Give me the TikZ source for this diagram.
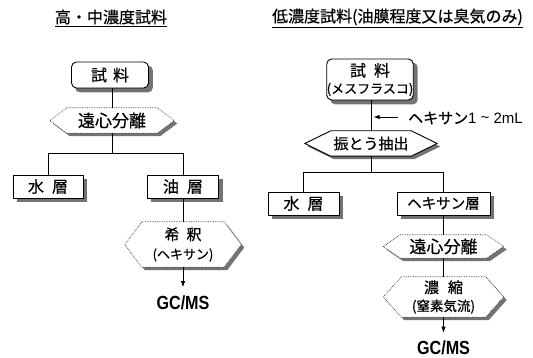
\documentclass[tikz,border=0pt]{standalone}
\usepackage{fontspec}
\usepackage{graphicx}
\setmainfont{Noto Sans CJK JP}[FakeBold=0.6,BoldFont={Noto Sans CJK JP}]
\newfontfamily\lib{Liberation Sans}
\usetikzlibrary{arrows.meta,backgrounds}

\newcommand\fs[1]{\fontsize{#1}{#1}\selectfont}
% hexagon drawn around an (invisible) rectangular node
\newcommand\hexdraw[3]{%
  \begin{scope}[on background layer]
    \fill[shadowc]
      ([xshift=#2pt+3pt,yshift=-3pt]#1.north west) --
      ([xshift=-#2pt+3pt,yshift=-3pt]#1.north east) --
      ([xshift=3pt,yshift=-3pt]#1.east) --
      ([xshift=-#2pt+3pt,yshift=-3pt]#1.south east) --
      ([xshift=#2pt+3pt,yshift=-3pt]#1.south west) --
      ([xshift=3pt,yshift=-3pt]#1.west) -- cycle;
    \filldraw[fill=white,#3]
      ([xshift=#2pt]#1.north west) --
      ([xshift=-#2pt]#1.north east) --
      (#1.east) --
      ([xshift=-#2pt]#1.south east) --
      ([xshift=#2pt]#1.south west) --
      (#1.west) -- cycle;
  \end{scope}}
% drop shadow for a box node
\newcommand\boxshadow[2]{%
  \begin{scope}[on background layer]
    \fill[shadowc, rounded corners=#2]
      ([xshift=4pt,yshift=-4pt]#1.south west) rectangle
      ([xshift=4pt,yshift=-4pt]#1.north east);
  \end{scope}}

\colorlet{shadowc}{black!55}

\begin{document}
\begin{tikzpicture}[x=1pt,y=-1pt,
  every node/.style={inner sep=0pt, font=\fs{16}},
  box/.style={draw, fill=white, line width=0.9pt},
  rbox/.style={box, rounded corners=5pt},
  hexnode/.style={draw=none, align=center},
  dotb/.style={draw=black!80, line width=0.7pt, densely dotted},
  solidb/.style={draw=black, line width=0.9pt},
  conn/.style={line width=0.9pt},
  arr/.style={conn, -{Latex[length=6pt,width=4.5pt]}},
  gcms/.style={font=\lib\bfseries\fs{19}},
  ttl/.style={font=\fs{16}},
]
\useasboundingbox (0,0) rectangle (533,358);

% ---------------- left column ----------------
\node[ttl] (t1) at (111,18) {\underline{高・中濃度試料}};
\node[rbox, minimum width=77pt, minimum height=26pt] (s1) at (110,75) {試\hspace{6pt}料};
\boxshadow{s1}{5pt}
\node[hexnode, minimum width=124pt, minimum height=25pt, font=\fs{17}] (h1) at (112,120.5) {遠心分離};
\hexdraw{h1}{17}{dotb}
\coordinate (j1) at (112,153);
\node[box, minimum width=70pt, minimum height=23pt] (w1) at (48,186.5) {水\hspace{8pt}層};
\boxshadow{w1}{0pt}
\node[box, minimum width=71pt, minimum height=23pt] (o1) at (183,186.5) {油\hspace{8pt}層};
\boxshadow{o1}{0pt}
\node[hexnode, minimum width=116pt, minimum height=45pt] (h2) at (183,244.5)
  {{\fs{15}希\hspace{7pt}釈}\\[3pt]{\fs{13}(ヘキサン)}};
\hexdraw{h2}{17}{dotb}
\node[gcms] (g1) at (183,302.5) {\scalebox{0.85}[1]{GC/MS}};

\draw[conn] (s1.south -| h1.north) -- (h1.north);
\draw[conn] (h1.south) -- (j1);
\draw[conn] (w1.north) -- (w1.north |- j1) -- (o1.north |- j1) -- (o1.north);
\draw[conn] (o1.south) -- (h2.north);
\draw[arr, shorten >=8pt] (h2.south) -- (g1.north);

% ---------------- right column ----------------
\node[ttl] (t2) at (397.5,18) {\underline{低濃度試料(油膜程度又は臭気のみ)}};
\node[rbox, minimum width=86pt, minimum height=41pt, align=center] (s2) at (370,79.5)
  {試\hspace{8pt}料\\[1pt]{\fs{13}(メスフラスコ)}};
\boxshadow{s2}{5pt}
\node[anchor=west, font=\fs{15}] (k1) at (408,118) {ヘキサン{\lib 1 \raisebox{1pt}{\textasciitilde} 2mL}};
\coordinate (a1) at (373.5,117);
\node[hexnode, minimum width=132pt, minimum height=25pt, font=\fs{15}] (h3) at (371,143.5) {振とう抽出};
\hexdraw{h3}{26}{solidb}
\coordinate (j2) at (371,172);
\node[box, minimum width=71pt, minimum height=23pt] (w2) at (303.5,203.5) {水\hspace{8pt}層};
\boxshadow{w2}{0pt}
\node[box, minimum width=93pt, minimum height=23pt, font=\fs{14.5}] (x2) at (443.5,203.5) {ヘキサン層};
\boxshadow{x2}{0pt}
\node[hexnode, minimum width=120pt, minimum height=23pt, font=\fs{17}] (h4) at (443.5,246.5) {遠心分離};
\hexdraw{h4}{17}{dotb}
\node[hexnode, minimum width=120pt, minimum height=40pt] (h5) at (443.5,297)
  {{\fs{15}濃\hspace{9pt}縮}\\[2pt]{\fs{13.5}(窒素気流)}};
\hexdraw{h5}{18}{dotb}
\node[gcms] (g2) at (443.5,348) {\scalebox{0.85}[1]{GC/MS}};

\draw[conn] (s2.south -| h3.north) -- (h3.north);
\draw[arr, shorten <=10pt] (k1.west |- a1) -- (a1);
\draw[conn] (h3.south) -- (j2);
\draw[conn] (w2.north) -- (w2.north |- j2) -- (x2.north |- j2) -- (x2.north);
\draw[conn] (x2.south) -- (h4.north);
\draw[conn] (h4.south) -- (h5.north);
\draw[arr, shorten >=8pt] (h5.south) -- (g2.north);
\end{tikzpicture}
\end{document}
